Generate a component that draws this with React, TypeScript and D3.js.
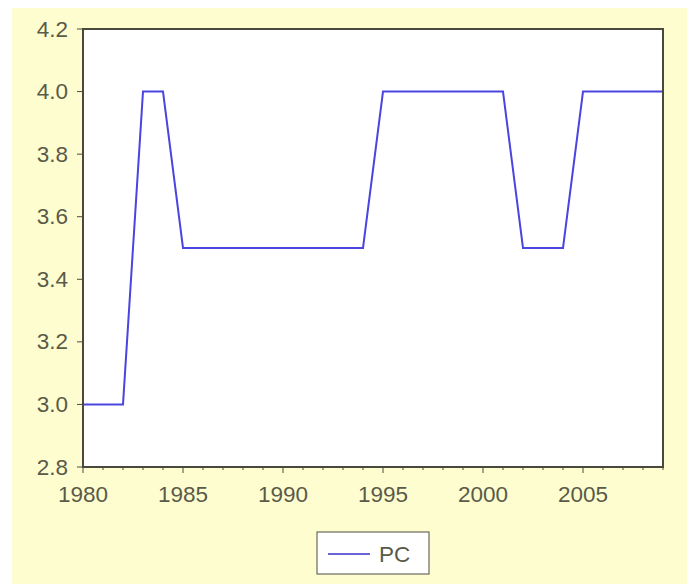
import * as d3 from "d3";

const years = [
  1980, 1981, 1982, 1983, 1984, 1985, 1986, 1987, 1988, 1989, 1990, 1991, 1992, 1993, 1994,
  1995, 1996, 1997, 1998, 1999, 2000, 2001, 2002, 2003, 2004, 2005, 2006, 2007, 2008, 2009,
];
const pc = [
  3.0, 3.0, 3.0, 4.0, 4.0, 3.5, 3.5, 3.5, 3.5, 3.5, 3.5, 3.5, 3.5, 3.5, 3.5,
  4.0, 4.0, 4.0, 4.0, 4.0, 4.0, 4.0, 3.5, 3.5, 3.5, 4.0, 4.0, 4.0, 4.0, 4.0,
];
const yTicks = [2.8, 3.0, 3.2, 3.4, 3.6, 3.8, 4.0, 4.2];
const xTicks = [1980, 1985, 1990, 1995, 2000, 2005];
const seriesName = "PC";

const W = 687;
const H = 584;
const plot = { left: 83, top: 29, right: 663, bottom: 467 };

export default function App() {
  const x = d3.scaleLinear().domain([1980, 2009]).range([plot.left, plot.right]);
  const y = d3.scaleLinear().domain([2.8, 4.2]).range([plot.bottom, plot.top]);

  const line = d3
    .line<number>()
    .x((_, i) => x(years[i]))
    .y((d) => y(d));

  const textColor = "#5a5a48";
  const axisColor = "#4a4a3c";
  const font = "'Liberation Sans', Arial, sans-serif";
  const fs = 22.5;

  return (
    <svg
      width={W}
      height={H}
      style={{ position: "absolute", left: 0, top: 0, display: "block" }}
    >
      <rect x={0} y={0} width={W} height={H} fill="#ffffff" />
      <rect x={12} y={8} width={W - 12} height={H - 8} fill="#fefdd0" />
      <rect
        x={plot.left}
        y={plot.top}
        width={plot.right - plot.left}
        height={plot.bottom - plot.top}
        fill="#ffffff"
      />

      {/* series */}
      <path d={line(pc) ?? ""} fill="none" stroke="#4a44e0" strokeWidth={2} />

      {/* frame */}
      <rect
        x={plot.left}
        y={plot.top}
        width={plot.right - plot.left}
        height={plot.bottom - plot.top}
        fill="none"
        stroke={axisColor}
        strokeWidth={2}
      />

      {/* y axis */}
      {yTicks.map((t) => (
        <g key={t}>
          <line x1={plot.left - 6} x2={plot.left} y1={y(t)} y2={y(t)} stroke={axisColor} strokeWidth={1} />
          <text
            x={plot.left - 15}
            y={y(t)}
            textAnchor="end"
            dominantBaseline="central"
            fontFamily={font}
            fontSize={fs}
            fill={textColor}
          >
            {t.toFixed(1)}
          </text>
        </g>
      ))}

      {/* x axis ticks, one per year */}
      {years.map((yr) => (
        <line
          key={yr}
          x1={x(yr)}
          x2={x(yr)}
          y1={plot.bottom}
          y2={plot.bottom + (xTicks.includes(yr) ? 6 : 3)}
          stroke={axisColor}
          strokeWidth={1}
        />
      ))}
      {xTicks.map((t) => (
        <text
          key={t}
          x={x(t)}
          y={plot.bottom + 27}
          textAnchor="middle"
          dominantBaseline="central"
          fontFamily={font}
          fontSize={fs}
          fill={textColor}
        >
          {t}
        </text>
      ))}

      {/* legend */}
      <rect x={317} y={532} width={112} height={42} fill="#ffffff" stroke="#6a6a5a" strokeWidth={1.2} />
      <line x1={328} x2={370} y1={554} y2={554} stroke="#6a66d8" strokeWidth={2} />
      <text
        x={379}
        y={554}
        dominantBaseline="central"
        fontFamily={font}
        fontSize={fs}
        fill={textColor}
      >
        {seriesName}
      </text>
    </svg>
  );
}
